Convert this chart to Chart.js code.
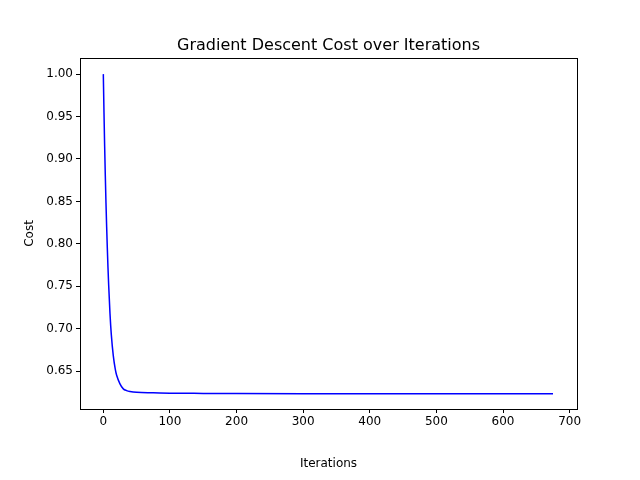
<!DOCTYPE html>
<html>
<head>
<script src="https://cdn.jsdelivr.net/npm/chart.js@4/dist/chart.umd.min.js"></script>
<style>
  body { margin: 0; background: #fff; }
  #wrap { width: 640px; height: 480px; }
</style>
</head>
<body>
<div id="wrap"><canvas id="costChart" width="640" height="480"></canvas></div>
<script>
// values
const iterations = [0, 1, 2, 3, 4, 5, 6, 7, 8, 10, 12, 15, 18, 20, 25, 30, 35, 40, 50, 75, 100, 150, 200, 300, 400, 500, 600, 675];
const cost = [1.0, 0.955, 0.915, 0.88, 0.848, 0.82, 0.795, 0.772, 0.752, 0.718, 0.693, 0.668, 0.652, 0.645, 0.635, 0.629, 0.627, 0.626, 0.625, 0.6245, 0.624, 0.6237, 0.6235, 0.6233, 0.6232, 0.6232, 0.6232, 0.6232];
const xTicks = [0, 100, 200, 300, 400, 500, 600, 700];
const yTicks = [0.65, 0.70, 0.75, 0.80, 0.85, 0.90, 0.95, 1.00];

const points = iterations.map((x, i) => ({ x: x, y: cost[i] }));

// frame, title and axis labels placed relative to the plot area
const frame = {
    id: 'frame',
    afterDraw(chart) {
        const a = chart.chartArea, c = chart.ctx;
        const cx = (a.left + a.right) / 2, cy = (a.top + a.bottom) / 2;
        c.save();
        c.strokeStyle = '#000';
        c.lineWidth = 1;
        c.strokeRect(a.left + 0.5, a.top + 0.5, a.right - a.left, a.bottom - a.top);
        c.fillStyle = '#000';
        c.textAlign = 'center';
        c.textBaseline = 'alphabetic';
        c.font = '16px "DejaVu Sans"';
        c.fillText('Gradient Descent Cost over Iterations', cx, a.top - 8);
        c.font = '12px "DejaVu Sans"';
        c.fillText('Iterations', cx, a.bottom + 58);
        c.translate(a.left - 47, cy);
        c.rotate(-Math.PI / 2);
        c.fillText('Cost', 0, 0);
        c.restore();
    }
};

Chart.defaults.font.family = 'DejaVu Sans';
Chart.defaults.color = '#000';

new Chart(document.getElementById('costChart').getContext('2d'), {
    type: 'scatter',
    data: {
        datasets: [{
            data: points,
            showLine: true,
            borderColor: '#0000ff',
            borderWidth: 1.5,
            pointRadius: 0,
            cubicInterpolationMode: 'monotone'
        }]
    },
    options: {
        responsive: false,
        animation: false,
        layout: { padding: { top: 58, right: 63, bottom: 0, left: 0 } },
        plugins: { legend: { display: false }, title: { display: false } },
        scales: {
            x: {
                type: 'linear',
                min: -35, max: 711,
                grid: { display: true, drawOnChartArea: false, drawTicks: true, tickLength: 4, color: '#000' },
                border: { color: '#000' },
                ticks: { font: { size: 12 }, padding: 2 },
                afterBuildTicks: s => { s.ticks = xTicks.map(v => ({ value: v })); },
                afterFit: s => { s.height = 71; }
            },
            y: {
                min: 0.6053, max: 1.019,
                grid: { display: true, drawOnChartArea: false, drawTicks: true, tickLength: 4, color: '#000' },
                border: { color: '#000' },
                ticks: { font: { size: 12 }, padding: 3, callback: v => v.toFixed(2) },
                afterBuildTicks: s => { s.ticks = yTicks.map(v => ({ value: v })); },
                afterFit: s => { s.width = 80; }
            }
        }
    },
    plugins: [frame]
});
</script>
</body>
</html>
